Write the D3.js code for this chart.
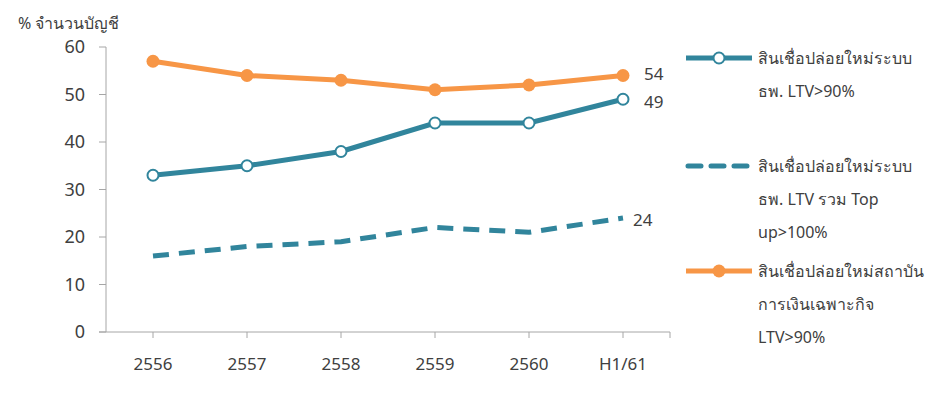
<!DOCTYPE html>
<html><head><meta charset="utf-8">
<script src="https://cdn.jsdelivr.net/npm/d3@7"></script>
<style>body{margin:0;background:#fff;} text{font-family:"Noto Sans","Open Sans",sans-serif;fill:#404040;}</style>
</head><body>
<svg id="c" width="947" height="395"></svg>
<script>
const categories = ["2556","2557","2558","2559","2560","H1/61"];
const seriesBankLTV90 = [33,35,38,44,44,49];
const seriesBankTopUp100 = [16,18,19,22,21,24];
const seriesSFI = [57,54,53,51,52,54];
const yTicks = [0,10,20,30,40,50,60];
const legendLabels = [
  ["สินเชื่อปล่อยใหม่ระบบ","ธพ. LTV>90%"],
  ["สินเชื่อปล่อยใหม่ระบบ","ธพ. LTV รวม Top","up>100%"],
  ["สินเชื่อปล่อยใหม่สถาบัน","การเงินเฉพาะกิจ","LTV>90%"]
];
const teal = "#31859c", orange = "#f79646", axisCol = "#a6a6a6";
const svg = d3.select("#c");
const x = d3.scaleBand().domain(categories).range([106,670]);
const y = d3.scaleLinear().domain([0,60]).range([332,47]);
const cx = d => x(d) + x.bandwidth()/2;

// y axis
svg.append("line").attr("x1",106).attr("x2",106).attr("y1",y(60)).attr("y2",y(0)).attr("stroke",axisCol);
yTicks.forEach(t=>{
  svg.append("line").attr("x1",99).attr("x2",106).attr("y1",y(t)).attr("y2",y(t)).attr("stroke",axisCol);
  svg.append("text").attr("x",85).attr("y",y(t)).attr("dy","0.35em").attr("text-anchor","end").attr("font-size",18).text(t);
});
// x axis
svg.append("line").attr("x1",99).attr("x2",670).attr("y1",y(0)).attr("y2",y(0)).attr("stroke",axisCol);
categories.forEach(c=>{
  svg.append("line").attr("x1",cx(c)).attr("x2",cx(c)).attr("y1",y(0)).attr("y2",y(0)+6).attr("stroke",axisCol);
  svg.append("text").attr("x",cx(c)).attr("y",370).attr("text-anchor","middle").attr("font-size",17).text(c);
});
svg.append("line").attr("x1",670).attr("x2",670).attr("y1",y(0)).attr("y2",y(0)+6).attr("stroke",axisCol);

svg.append("text").attr("x",18).attr("y",29).attr("font-size",16).text("% จำนวนบัญชี");

const line = d3.line().x((d,i)=>cx(categories[i])).y(d=>y(d));
svg.append("path").datum(seriesSFI).attr("d",line).attr("fill","none").attr("stroke",orange).attr("stroke-width",5);
svg.append("path").datum(seriesBankTopUp100).attr("d",line).attr("fill","none").attr("stroke",teal).attr("stroke-width",5).attr("stroke-dasharray","16,10");
svg.append("path").datum(seriesBankLTV90).attr("d",line).attr("fill","none").attr("stroke",teal).attr("stroke-width",5);
seriesSFI.forEach((d,i)=>svg.append("circle").attr("cx",cx(categories[i])).attr("cy",y(d)).attr("r",6.5).attr("fill",orange));
seriesBankLTV90.forEach((d,i)=>svg.append("circle").attr("cx",cx(categories[i])).attr("cy",y(d)).attr("r",5.5).attr("fill","#fff").attr("stroke",teal).attr("stroke-width",2));

const last = categories.length-1, lx = cx(categories[last]);
svg.append("text").attr("x",lx+21).attr("y",y(seriesSFI[last])-1).attr("dy","0.35em").attr("font-size",17).text(seriesSFI[last]);
svg.append("text").attr("x",lx+21).attr("y",y(seriesBankLTV90[last])+3).attr("dy","0.35em").attr("font-size",17).text(seriesBankLTV90[last]);
svg.append("text").attr("x",lx+10).attr("y",y(seriesBankTopUp100[last])+2).attr("dy","0.35em").attr("font-size",17).text(seriesBankTopUp100[last]);

// legend
const legY = [58,166,271];
const lg = svg.append("g");
lg.append("line").attr("x1",686).attr("x2",752).attr("y1",legY[0]).attr("y2",legY[0]).attr("stroke",teal).attr("stroke-width",5);
lg.append("circle").attr("cx",719).attr("cy",legY[0]).attr("r",5.5).attr("fill","#fff").attr("stroke",teal).attr("stroke-width",2);
lg.append("line").attr("x1",688).attr("x2",748).attr("y1",legY[1]).attr("y2",legY[1]).attr("stroke",teal).attr("stroke-width",5).attr("stroke-dasharray","13,10").attr("stroke-linecap","round");
lg.append("line").attr("x1",686).attr("x2",752).attr("y1",legY[2]).attr("y2",legY[2]).attr("stroke",orange).attr("stroke-width",5);
lg.append("circle").attr("cx",719).attr("cy",legY[2]).attr("r",6.5).attr("fill",orange);
legendLabels.forEach((lines,k)=>{
  lines.forEach((t,j)=>{
    lg.append("text").attr("x",758).attr("y",legY[k]+j*33).attr("dy","0.35em").attr("font-size",16).text(t);
  });
});
</script>
</body></html>
